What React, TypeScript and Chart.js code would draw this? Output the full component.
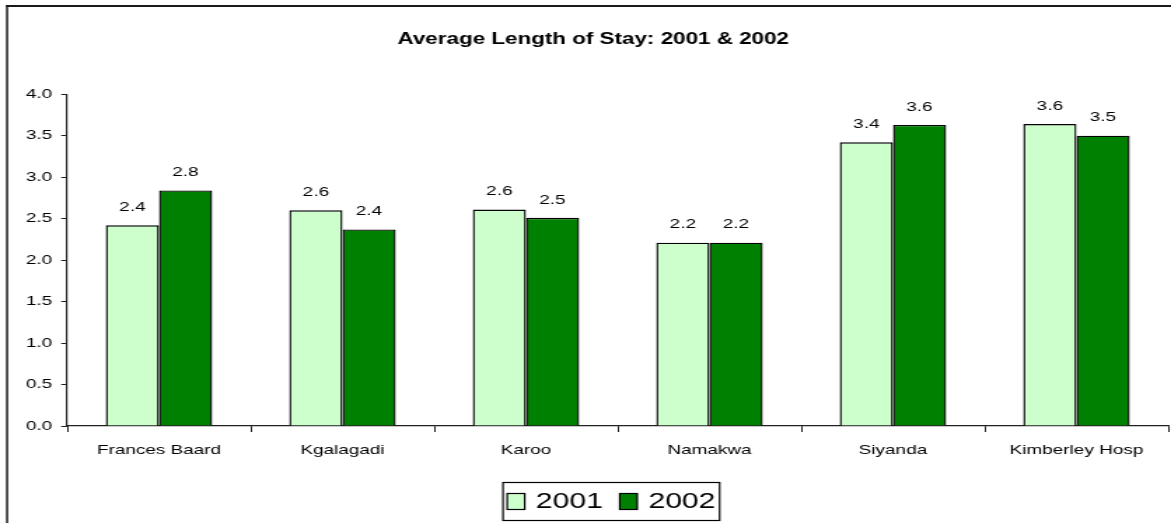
import React, { useEffect, useRef } from "react";
import { Chart, registerables } from "chart.js";

Chart.register(...registerables);

const categories = ["Frances Baard", "Kgalagadi", "Karoo", "Namakwa", "Siyanda", "Kimberley Hosp"];
const values2001 = [2.42, 2.6, 2.61, 2.21, 3.42, 3.64];
const values2002 = [2.84, 2.37, 2.51, 2.21, 3.63, 3.5];
const seriesLabels = ["2001", "2002"];
const yTicks = [0, 0.5, 1, 1.5, 2, 2.5, 3, 3.5, 4];
const titleText = "Average Length of Stay: 2001 & 2002";

const FONT = "'Liberation Sans', Arial, sans-serif";
const CSS_W = 1171;
const CSS_H = 523;
const S = 1.4;
const LW = Math.round(CSS_W / S);

const borderPlugin = {
  id: "frameBorder",
  beforeDraw(chart: any) {
    const ctx = chart.ctx;
    ctx.save();
    ctx.fillStyle = "#ffffff";
    ctx.fillRect(0, 0, chart.width, chart.height);
    ctx.fillStyle = "#1a1a1a";
    ctx.fillRect(7 / S - 0.7, 5, 1.5, chart.height);
    ctx.fillRect(7 / S - 0.7, 5, chart.width, 2);
    ctx.restore();
  },
};

const valueLabelPlugin = {
  id: "valueLabels",
  afterDatasetsDraw(chart: any) {
    const ctx = chart.ctx;
    ctx.save();
    ctx.font = `13.5px ${FONT}`;
    ctx.fillStyle = "#000";
    ctx.textAlign = "center";
    ctx.textBaseline = "middle";
    chart.data.datasets.forEach((ds: any, i: number) => {
      const meta = chart.getDatasetMeta(i);
      meta.data.forEach((bar: any, j: number) => {
        ctx.fillText(Number(ds.data[j]).toFixed(1), bar.x, bar.y - 18);
      });
    });
    ctx.restore();
  },
};

const boxLegendPlugin = {
  id: "boxLegend",
  afterDraw(chart: any) {
    const ctx = chart.ctx;
    const cx = 611 / S;
    const top = 482;
    const bottom = 520;
    const sq = 12.5;
    const sqH = 16;
    const gap = 8;
    const itemGap = 12;
    const padX = 3;
    ctx.save();
    ctx.font = `21.5px ${FONT}`;
    const items = chart.data.datasets.map((ds: any) => ({
      label: ds.label,
      color: ds.backgroundColor,
      w: ctx.measureText(ds.label).width,
    }));
    let total = 0;
    items.forEach((it: any, i: number) => {
      total += sq + gap + it.w + (i > 0 ? itemGap : 0);
    });
    const boxW = total + padX * 2;
    const left = cx - boxW / 2;
    ctx.strokeStyle = "#000";
    ctx.lineWidth = 1.2;
    ctx.strokeRect(left, top + 0.5, boxW, bottom - top);
    let x = left + padX;
    const midY = (top + bottom) / 2 + 0.5;
    items.forEach((it: any, i: number) => {
      if (i > 0) x += itemGap;
      ctx.fillStyle = it.color;
      ctx.fillRect(x, midY - sqH / 2, sq, sqH);
      ctx.strokeStyle = "#000";
      ctx.lineWidth = 1.2;
      ctx.strokeRect(x, midY - sqH / 2, sq, sqH);
      x += sq + gap;
      ctx.fillStyle = "#000";
      ctx.textAlign = "left";
      ctx.textBaseline = "middle";
      ctx.fillText(it.label, x, midY + 1);
      x += it.w;
    });
    ctx.restore();
  },
};

export default function App() {
  const ref = useRef<HTMLCanvasElement>(null);
  useEffect(() => {
    document.body.style.margin = "0";
    if (!ref.current) return;
    const chart = new Chart(ref.current, {
      type: "bar",
      data: {
        labels: categories,
        datasets: [
          {
            label: seriesLabels[0],
            data: values2001,
            backgroundColor: "#CCFFCC",
            borderColor: "#000",
            borderWidth: 1.4,
          },
          {
            label: seriesLabels[1],
            data: values2002,
            backgroundColor: "#008000",
            borderColor: "#000",
            borderWidth: 1.4,
          },
        ],
      },
      options: {
        responsive: false,
        animation: false,
        devicePixelRatio: 1,
        layout: { padding: { left: 13, right: 2, top: 0, bottom: 57 } },
        datasets: { bar: { categoryPercentage: 0.58, barPercentage: 1 } },
        plugins: {
          legend: { display: false },
          tooltip: { enabled: false },
          title: {
            display: true,
            text: titleText,
            color: "#000",
            font: { family: FONT, size: 16, weight: "bold" },
            padding: { top: 30, bottom: 45 },
          },
        },
        scales: {
          x: {
            grid: { drawOnChartArea: false, drawTicks: true, tickLength: 6, color: "#222", offset: true },
            border: { color: "#222", width: 1.2 },
            ticks: { color: "#000", font: { family: FONT, size: 13.5 }, padding: 10, maxRotation: 0, autoSkip: false },
            afterFit: (s: any) => {
              s.height = 40;
            },
          },
          y: {
            min: 0,
            max: 4,
            afterBuildTicks: (s: any) => {
              s.ticks = yTicks.map((v) => ({ value: v }));
            },
            grid: { drawOnChartArea: false, drawTicks: true, tickLength: 4.3, color: "#222" },
            border: { color: "#222", width: 1.2 },
            ticks: {
              color: "#000",
              font: { family: FONT, size: 13.5 },
              padding: 6.5,
              callback: (v: any) => Number(v).toFixed(1),
            },
            afterFit: (s: any) => {
              s.width = 35;
            },
          },
        },
      },
      plugins: [borderPlugin, valueLabelPlugin, boxLegendPlugin],
    });
    return () => chart.destroy();
  }, []);
  return (
    <canvas
      ref={ref}
      width={LW}
      height={CSS_H}
      style={{ width: `${CSS_W}px`, height: `${CSS_H}px`, display: "block" }}
    />
  );
}
